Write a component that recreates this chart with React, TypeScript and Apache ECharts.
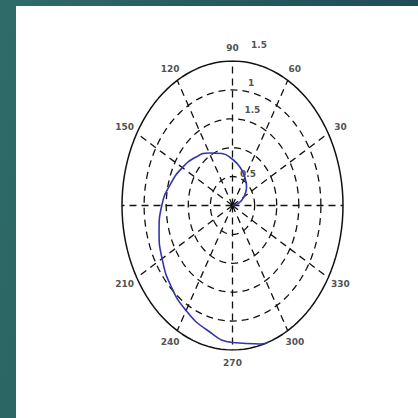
import React, { useEffect, useRef } from "react";
import * as echarts from "echarts";

// Spiral: angle (degrees) and radius
const spiralAngles = [0, 15, 30, 45, 60, 75, 90, 105, 120, 135, 150, 165, 180, 195, 210, 225, 240, 255, 270, 285, 289];
const spiralRadii = [0, 0.14, 0.3, 0.45, 0.56, 0.68, 0.8, 0.93, 1.05, 1.18, 1.31, 1.45, 1.6, 1.72, 1.84, 1.97, 2.1, 2.23, 2.37, 2.48, 2.5];

const ringValues = [0.5, 1, 1.5, 2];
const outerRadius = 2.5;
const spokeAngles = [0, 30, 60, 90, 120, 150, 180, 210, 240, 270, 300, 330];
const angleLabels = ["90", "60", "30", "330", "300", "270", "240", "210", "150", "120"];
const angleLabelAngles = [90, 60, 30, 330, 300, 270, 240, 210, 150, 120];
const radialLabels = ["0.5", "1.5", "1", "1.5"];

const rad = (d: number) => (d * Math.PI) / 180;

function ringPoints(r: number) {
  const pts: number[][] = [];
  for (let a = 0; a <= 360; a += 3) pts.push([r * Math.cos(rad(a)), r * Math.sin(rad(a))]);
  return pts;
}

export default function App() {
  const ref = useRef<HTMLDivElement>(null);
  useEffect(() => {
    const chart = echarts.init(ref.current!, null, { renderer: "svg" });
    const series: any[] = [];
    ringValues.forEach((r) => {
      series.push({
        type: "line",
        data: ringPoints(r),
        showSymbol: false,
        silent: true,
        lineStyle: { color: "#111", width: 1.3, type: [7, 5] },
      });
    });
    spokeAngles.forEach((a) => {
      series.push({
        type: "line",
        data: [
          [0, 0],
          [outerRadius * Math.cos(rad(a)), outerRadius * Math.sin(rad(a))],
        ],
        showSymbol: false,
        silent: true,
        lineStyle: { color: "#111", width: 1.3, type: [7, 5] },
      });
    });
    series.push({
      type: "line",
      data: ringPoints(outerRadius),
      showSymbol: false,
      silent: true,
      lineStyle: { color: "#111", width: 1.5 },
    });
    series.push({
      type: "line",
      data: spiralAngles.map((a, i) => [spiralRadii[i] * Math.cos(rad(a)), spiralRadii[i] * Math.sin(rad(a))]),
      showSymbol: false,
      smooth: true,
      lineStyle: { color: "#3535a8", width: 1.6 },
      z: 5,
    });
    series.push({
      type: "scatter",
      symbolSize: 0,
      clip: false,
      data: angleLabelAngles.map((a, i) => ({
        value: [2.82 * Math.cos(rad(a)), 2.72 * Math.sin(rad(a))],
        label: { show: true, formatter: angleLabels[i] },
      })),
      label: { position: "inside", color: "#222", fontSize: 9, fontFamily: "DejaVu Sans", fontWeight: "bold" },
    });
    series.push({
      type: "scatter",
      symbolSize: 0,
      clip: false,
      data: [
        { value: [0.35, 0.55], label: { formatter: radialLabels[0] } },
        { value: [0.45, 1.65], label: { formatter: radialLabels[1] } },
        { value: [0.42, 2.12], label: { formatter: radialLabels[2] } },
        { value: [0.6, 2.77], label: { formatter: radialLabels[3] } },
      ],
      label: { show: true, position: "inside", color: "#222", fontSize: 9, fontFamily: "DejaVu Sans", fontWeight: "bold" },
    });
    chart.setOption({
      animation: false,
      grid: { left: 122, top: 61, width: 221, height: 289 },
      xAxis: { type: "value", min: -outerRadius, max: outerRadius, show: false },
      yAxis: { type: "value", min: -outerRadius, max: outerRadius, show: false },
      series,
    });
    return () => chart.dispose();
  }, []);
  return (
    <div
      style={{
        position: "fixed",
        left: 0,
        top: 0,
        width: 418,
        height: 418,
        background: "linear-gradient(100deg, #2f6c69 0%, #265c5d 40%, #1d4853 100%)",
      }}
    >
      <div style={{ position: "absolute", left: 16, top: 6, width: 402, height: 412, background: "#fff" }} />
      <div ref={ref} style={{ position: "absolute", left: 0, top: 0, width: 418, height: 418 }} />
    </div>
  );
}
